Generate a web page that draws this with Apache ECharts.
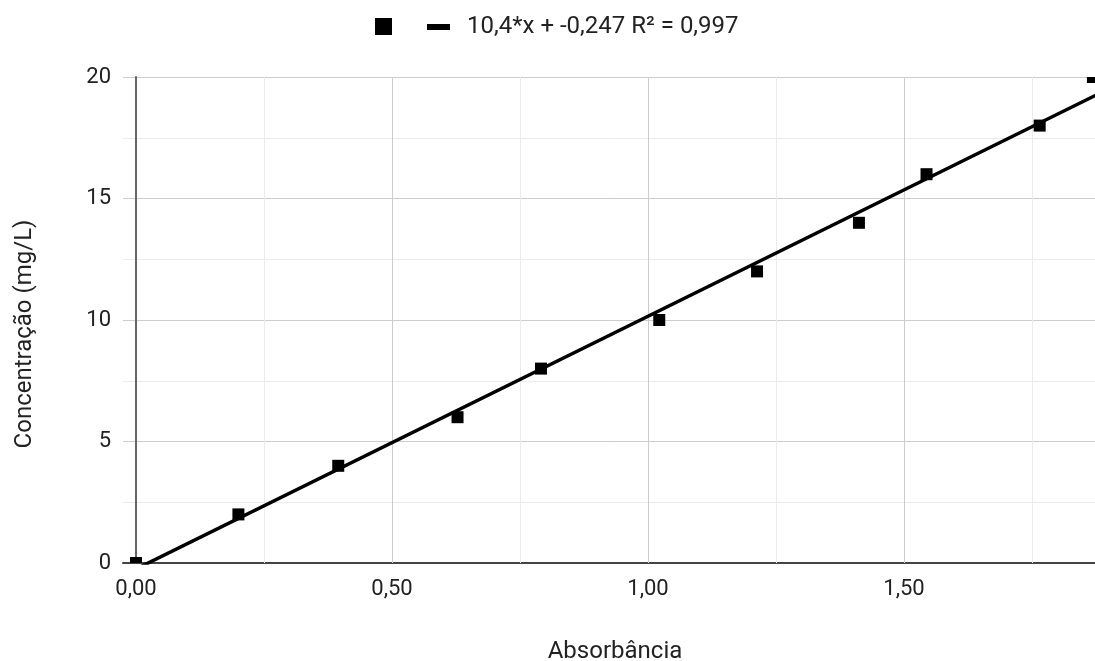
<!DOCTYPE html>
<html>
<head>
<meta charset="utf-8">
<script src="https://cdn.jsdelivr.net/npm/echarts@6/dist/echarts.min.js"></script>
<style>
html,body{margin:0;padding:0;background:#fff;}
#chart{width:1095px;height:661px;}
</style>
</head>
<body>
<div id="chart"></div>
<script>
// Data
var absorbance = [0, 0.2, 0.395, 0.628, 0.791, 1.022, 1.213, 1.412, 1.544, 1.765, 1.869];
var concentration = [0, 2, 4, 6, 8, 10, 12, 14, 16, 18, 20];
var trendX = [-0.03, 1.9];
var trendY = [-0.559, 19.513];
var trendLabel = '10,4*x + -0,247 R\u00B2 = 0,997';
var xTickLabels = [0, 0.5, 1, 1.5];
var xMajorGrid = [0.5, 1, 1.5];
var xMinorGrid = [0.25, 0.75, 1.25, 1.75];
var yTicks = { min: 0, max: 20, interval: 5 };
var xRange = { min: -0.0254, max: 1.8965 };

var FONT = 'Roboto, Arial, sans-serif';
var MARKER = 12;
var scatterData = absorbance.map(function (x, i) { return [x, concentration[i]]; });
var trendData = trendX.map(function (x, i) { return [x, trendY[i]]; });

var gridMarks = xMajorGrid.map(function (v) {
  return { xAxis: v, lineStyle: { color: '#cccccc', width: 1, type: 'solid' } };
}).concat(xMinorGrid.map(function (v) {
  return { xAxis: v, lineStyle: { color: '#ebebeb', width: 1, type: 'solid' } };
}));

function renderMarker(params, api) {
  var p = api.coord([api.value(0), api.value(1)]);
  var cs = params.coordSys;
  var shape = echarts.graphic.clipRectByRect(
    { x: p[0] - MARKER / 2, y: p[1] - MARKER / 2, width: MARKER, height: MARKER },
    { x: cs.x, y: cs.y, width: cs.width, height: cs.height }
  );
  if (!shape) return null;
  return { type: 'rect', shape: shape, style: { fill: '#000' } };
}

var chart = echarts.init(document.getElementById('chart'), null, { renderer: 'canvas' });
chart.setOption({
  animation: false,
  backgroundColor: '#ffffff',
  textStyle: { fontFamily: FONT },
  grid: { left: 123, right: -12, top: 77, bottom: 98, containLabel: false, outerBoundsMode: 'none' },
  legend: [
    {
      data: [{ name: 'Pontos', icon: 'rect', itemStyle: { color: '#000', opacity: 1 } }],
      left: 375, top: 18, padding: 0,
      itemWidth: 17, itemHeight: 17,
      formatter: function () { return ''; },
      selectedMode: false
    },
    {
      data: [{ name: trendLabel, icon: 'rect', itemStyle: { color: '#000', opacity: 1 } }],
      left: 427, top: 15, padding: 0,
      itemWidth: 23, itemHeight: 6,
      selectedMode: false,
      textStyle: { fontFamily: FONT, fontSize: 24, color: '#222', padding: [0, 0, 0, 12] }
    }
  ],
  xAxis: {
    type: 'value',
    min: xRange.min, max: xRange.max,
    name: 'Absorbância',
    nameLocation: 'middle',
    nameGap: 77,
    nameTextStyle: { fontFamily: FONT, fontSize: 24, color: '#222' },
    axisLine: { show: true, onZero: false, lineStyle: { color: '#444', width: 2 } },
    axisTick: { show: false },
    splitLine: { show: false },
    axisLabel: {
      customValues: xTickLabels,
      margin: 15,
      fontFamily: FONT, fontSize: 22, color: '#222',
      formatter: function (v) { return v.toFixed(2).replace('.', ','); }
    }
  },
  yAxis: {
    type: 'value',
    min: yTicks.min, max: yTicks.max, interval: yTicks.interval,
    axisLine: { show: true, onZero: true, lineStyle: { color: '#666', width: 2 } },
    axisTick: { show: false },
    minorTick: { show: false, splitNumber: 2 },
    splitLine: { show: true, lineStyle: { color: '#cccccc', width: 1 } },
    minorSplitLine: { show: true, lineStyle: { color: '#ebebeb', width: 1 } },
    axisLabel: { margin: 12, fontFamily: FONT, fontSize: 22, color: '#222' }
  },
  graphic: [
    {
      type: 'text',
      x: 25, y: 334,
      rotation: Math.PI / 2,
      style: {
        text: 'Concentração (mg/L)',
        font: '24px Roboto, Arial, sans-serif',
        fill: '#222',
        align: 'center', verticalAlign: 'middle',
        textAlign: 'center', textVerticalAlign: 'middle'
      }
    }
  ],
  series: [
    {
      name: trendLabel,
      type: 'line',
      data: trendData,
      showSymbol: false,
      symbol: 'none',
      z: 3,
      clip: true,
      itemStyle: { color: '#000' },
      lineStyle: { color: '#000', width: 3.5 },
      markLine: {
        silent: true,
        symbol: ['none', 'none'],
        z: 1,
        label: { show: false },
        data: gridMarks
      }
    },
    {
      name: 'Pontos',
      type: 'custom',
      data: scatterData,
      renderItem: renderMarker,
      encode: { x: 0, y: 1 },
      z: 4,
      clip: true,
      itemStyle: { color: '#000', opacity: 1 }
    }
  ]
});
</script>
</body>
</html>
